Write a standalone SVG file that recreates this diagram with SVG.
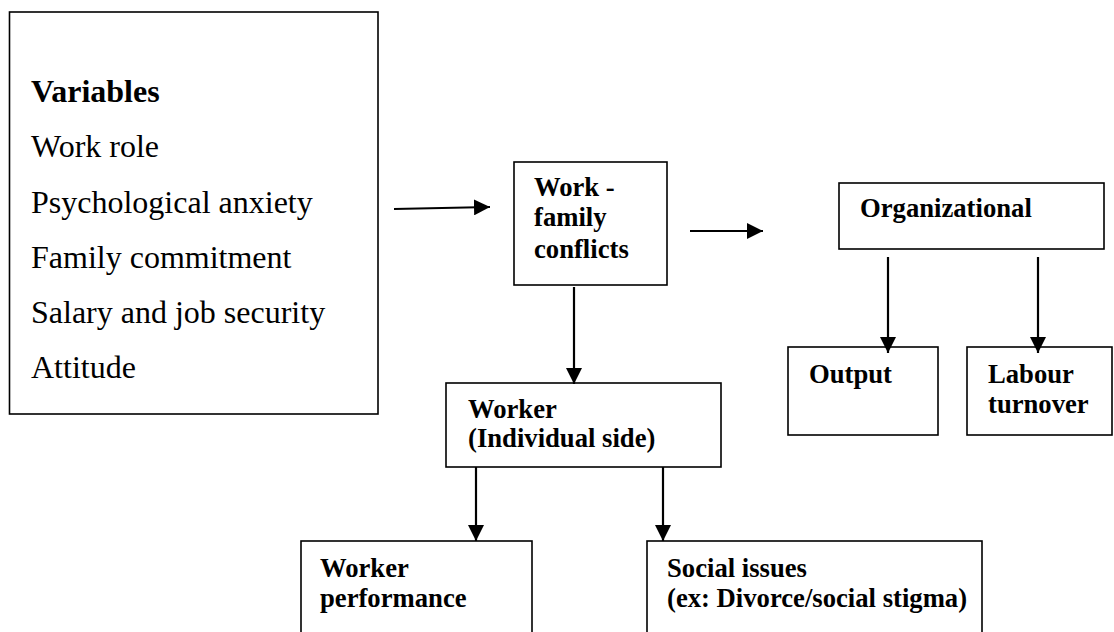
<svg xmlns="http://www.w3.org/2000/svg" width="1114" height="632" viewBox="0 0 1114 632">
<style>
  .box { fill: #ffffff; stroke: #000000; stroke-width: 1.6; }
  .reg { font-family: "Liberation Serif", "Times New Roman", serif; font-size: 32px; fill: #000; }
  .b { font-family: "Liberation Serif", "Times New Roman", serif; font-size: 26.67px; font-weight: bold; fill: #000; }
  .conn line { stroke: #000; stroke-width: 2.2; marker-end: url(#ah); }
</style>
<defs>
  <marker id="ah" markerUnits="userSpaceOnUse" markerWidth="16" markerHeight="16" refX="16" refY="8" orient="auto" viewBox="0 0 16 16">
    <path d="M0,0 L16,8 L0,16 z" fill="#000"/>
  </marker>
</defs>
<rect width="1114" height="632" fill="#ffffff"/>

<g id="variables">
  <rect class="box" x="9.5" y="12" width="368.5" height="402"/>
  <text class="reg" x="31" y="102" font-weight="bold">Variables</text>
  <text class="reg" x="31" y="157">Work role</text>
  <text class="reg" x="31" y="213">Psychological anxiety</text>
  <text class="reg" x="31" y="268">Family commitment</text>
  <text class="reg" x="31" y="323">Salary and job security</text>
  <text class="reg" x="31" y="378">Attitude</text>
</g>

<g id="work-family-conflicts">
  <rect class="box" x="514" y="162" width="153" height="123"/>
  <text class="b" x="534" y="196">Work -</text>
  <text class="b" x="534" y="226">family</text>
  <text class="b" x="534" y="258">conflicts</text>
</g>

<g id="organizational">
  <rect class="box" x="839" y="183" width="265" height="66"/>
  <text class="b" x="860" y="217">Organizational</text>
</g>

<g id="output">
  <rect class="box" x="788" y="347" width="150" height="88"/>
  <text class="b" x="809" y="383">Output</text>
</g>

<g id="labour-turnover">
  <rect class="box" x="967" y="347" width="145" height="88"/>
  <text class="b" x="988" y="383">Labour</text>
  <text class="b" x="988" y="413">turnover</text>
</g>

<g id="worker">
  <rect class="box" x="446" y="383" width="275" height="84"/>
  <text class="b" x="468" y="418">Worker</text>
  <text class="b" x="468" y="447">(Individual side)</text>
</g>

<g id="worker-performance">
  <rect class="box" x="301" y="541" width="231" height="120"/>
  <text class="b" x="320" y="577">Worker</text>
  <text class="b" x="320" y="607">performance</text>
</g>

<g id="social-issues">
  <rect class="box" x="647" y="541" width="335" height="120"/>
  <text class="b" x="667" y="577">Social issues</text>
  <text class="b" x="667" y="607">(ex: Divorce/social stigma)</text>
</g>

<g id="connectors" class="conn">
  <line x1="394" y1="209" x2="490" y2="207"/>
  <line x1="690" y1="231" x2="763" y2="231"/>
  <line x1="574" y1="287" x2="574" y2="384"/>
  <line x1="888" y1="257" x2="888" y2="353"/>
  <line x1="1038" y1="257" x2="1038" y2="353"/>
  <line x1="476" y1="467" x2="476" y2="541"/>
  <line x1="663" y1="467" x2="663" y2="541"/>
</g>
</svg>
